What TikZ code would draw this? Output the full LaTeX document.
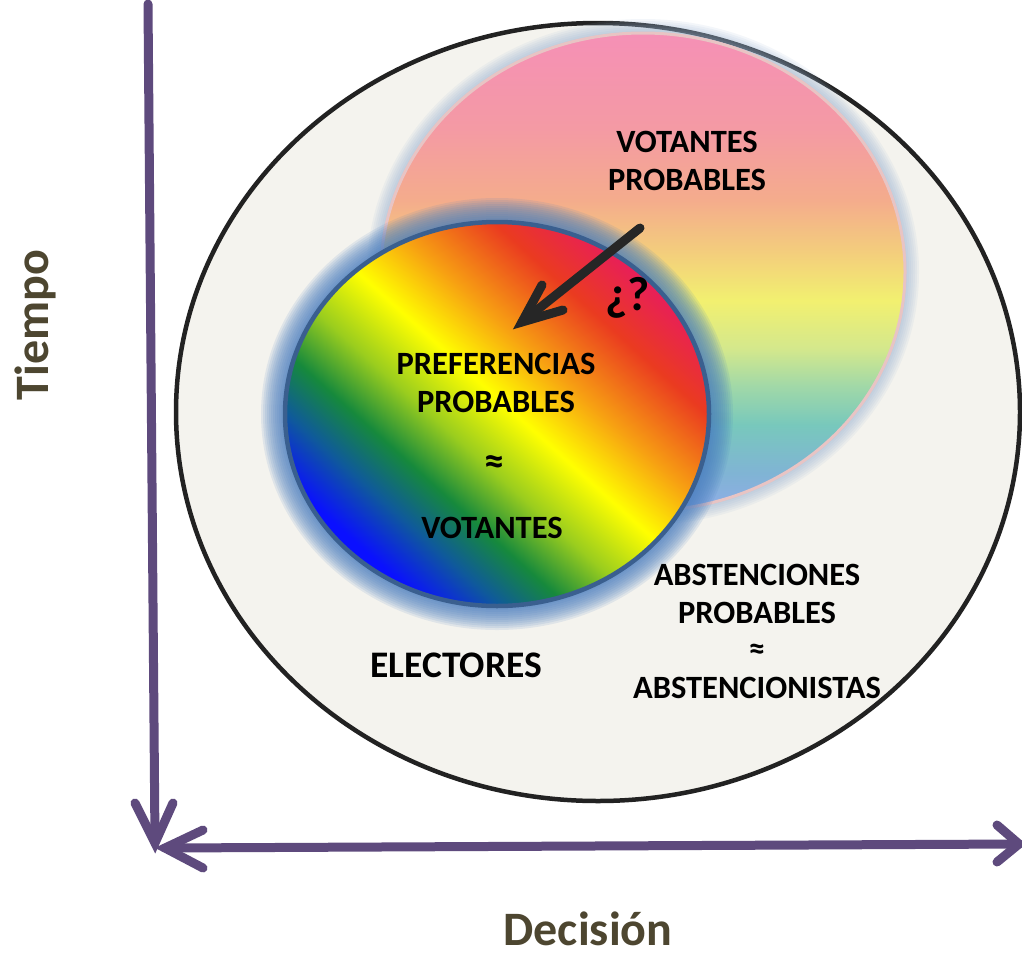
\documentclass[tikz,border=0pt]{standalone}
\usepackage{fontspec}
\setmainfont{Carlito}
\usetikzlibrary{calc}
\definecolor{axiscol}{HTML}{5E4A7D}
\definecolor{olivetxt}{HTML}{4D4630}
\definecolor{bgell}{HTML}{F4F3EE}
\definecolor{rimblack}{HTML}{222222}
\definecolor{arrowblack}{HTML}{262626}
\definecolor{glowblue}{HTML}{4A7EC0}
\definecolor{glowgrey}{HTML}{9AB4D4}
\definecolor{rainrim}{HTML}{3A5F8F}
\definecolor{pastelrim}{HTML}{E8C4C4}
% rainbow
\definecolor{rbBlue}{HTML}{0A10FF}
\definecolor{rbTeal}{HTML}{0F5A9A}
\definecolor{rbGreen}{HTML}{16893C}
\definecolor{rbYG}{HTML}{9ACD1E}
\definecolor{rbYellow}{HTML}{FFFF00}
\definecolor{rbOrange}{HTML}{F7A012}
\definecolor{rbRed}{HTML}{EA3B20}
\definecolor{rbPink}{HTML}{E81E5A}
% pastel
\definecolor{psPink}{HTML}{F590B6}
\definecolor{psRose}{HTML}{F49AA4}
\definecolor{psSalmon}{HTML}{F4AC8C}
\definecolor{psOrange}{HTML}{F3CE7C}
\definecolor{psYellow}{HTML}{F2F070}
\definecolor{psLime}{HTML}{D4E88C}
\definecolor{psMint}{HTML}{A0D8A8}
\definecolor{psTeal}{HTML}{78C8BC}
\definecolor{psSky}{HTML}{80B4D4}
\definecolor{psBlue}{HTML}{90ACE8}
\pgfdeclarehorizontalshading{rainbow}{100bp}{color(0bp)=(rbBlue); color(30.2bp)=(rbBlue); color(35.4bp)=(rbTeal); color(40.1bp)=(rbGreen); color(45.3bp)=(rbYG); color(51.25bp)=(rbYellow); color(57.3bp)=(rbOrange); color(64.6bp)=(rbRed); color(70.8bp)=(rbPink); color(100bp)=(rbPink)}
\pgfdeclareverticalshading{pastel}{100bp}{color(0bp)=(psBlue); color(25bp)=(psBlue); color(29bp)=(psSky); color(34bp)=(psTeal); color(38bp)=(psMint); color(42bp)=(psLime); color(47bp)=(psYellow); color(52bp)=(psOrange); color(57.5bp)=(psSalmon); color(65bp)=(psRose); color(75bp)=(psPink); color(100bp)=(psPink)}
\tikzset{
  axisline/.style={draw=axiscol, line width=9pt, line cap=round, line join=miter},
  chevron/.style={draw=axiscol, line width=9pt, line cap=round, line join=miter, miter limit=10},
  blackarrow/.style={draw=arrowblack, line width=9pt, line cap=round, line join=miter, miter limit=10},
  lbl/.style={font=\fontsize{32.5}{38}\selectfont\bfseries, align=center, text=black, inner sep=0pt},
  approxlbl/.style={font=\fontsize{40}{40}\selectfont\bfseries, text=black, inner sep=0pt},
  biglbl/.style={font=\fontsize{37.5}{43}\selectfont\bfseries, text=black, inner sep=0pt},
  axislbl/.style={font=\fontsize{48}{56}\selectfont\bfseries, text=olivetxt, inner sep=0pt},
}
\begin{document}
\begin{tikzpicture}[x=1pt,y=-1pt]
\useasboundingbox (0,0) rectangle (1022,956);
\fill[white] (0,0) rectangle (1022,956);
% outer ellipse (electores)
\filldraw[fill=bgell, draw=rimblack, line width=4.5pt] (598,412) ellipse [x radius=422, y radius=389];
% pastel circle glow
\foreach \i in {1,...,7}{
  \fill[glowgrey, opacity=0.11] (643,272) ellipse [x radius={262+2*\i}, y radius={239+2*\i}];
}
\shade[shading=pastel] (643,272) ellipse [x radius=262, y radius=239];
\draw[pastelrim, line width=3pt] (643,272) ellipse [x radius=262, y radius=239];
% rainbow glow
\foreach \i in {1,...,12}{
  \fill[glowblue, opacity=0.12] (497,414) ellipse [x radius={212+2*\i}, y radius={192+2*\i}];
}
\begin{scope}
  \clip (497,414) ellipse [x radius=212, y radius=192];
  \begin{scope}[transform canvas={rotate around={48:(497,414)}}]
    \shade[shading=rainbow] (257,174) rectangle (737,654);
  \end{scope}
\end{scope}
\draw[rainrim, line width=4.5pt] (497,414) ellipse [x radius=212, y radius=192];
% texts
\node[lbl] (vp) at (687,161) {VOTANTES\\PROBABLES};
\node[lbl] (pp) at (496,383) {PREFERENCIAS\\PROBABLES};
\node[approxlbl] (approx1) at (494,465) {≈};
\node[lbl] (vot) at (492,528) {VOTANTES};
\node[biglbl] (elec) at (456,665) {ELECTORES};
\node[lbl] (abs) at (757,594) {ABSTENCIONES\\PROBABLES};
\node[lbl] (approx2) at (757,652) {≈};
\node[lbl] (absn) at (757,688) {ABSTENCIONISTAS};
\node[font=\fontsize{48}{52}\selectfont\bfseries, text=black, inner sep=0pt] (q) at (628,298) {¿?};
\node[axislbl, rotate=90] (tiempo) at (35,325) {Tiempo};
\node[axislbl] (decision) at (588,929) {Decisión};
% black arrow
\coordinate (bstart) at (640,228);
\coordinate (btip) at (522,322);
\draw[blackarrow] (bstart) -- (btip);
\draw[blackarrow] ($(btip)+(20,-37)$) -- (btip) -- ($(btip)+(41,-12)$);
% axes
\coordinate (vtop) at (148,4);
\coordinate (vtip) at (155,843);
\coordinate (hleft) at (165,848);
\coordinate (hright) at (1019,844);
\draw[axisline] (vtop) -- (vtip);
\draw[chevron] ($(vtip)+(-20,-40)$) -- (vtip) -- ($(vtip)+(18,-40)$);
\draw[axisline] (hleft) -- (hright);
\draw[chevron] ($(hleft)+(38,-18)$) -- (hleft) -- ($(hleft)+(38,20)$);
\draw[chevron] ($(hright)+(-22,-19)$) -- (hright) -- ($(hright)+(-22,18)$);
\end{tikzpicture}
\end{document}
